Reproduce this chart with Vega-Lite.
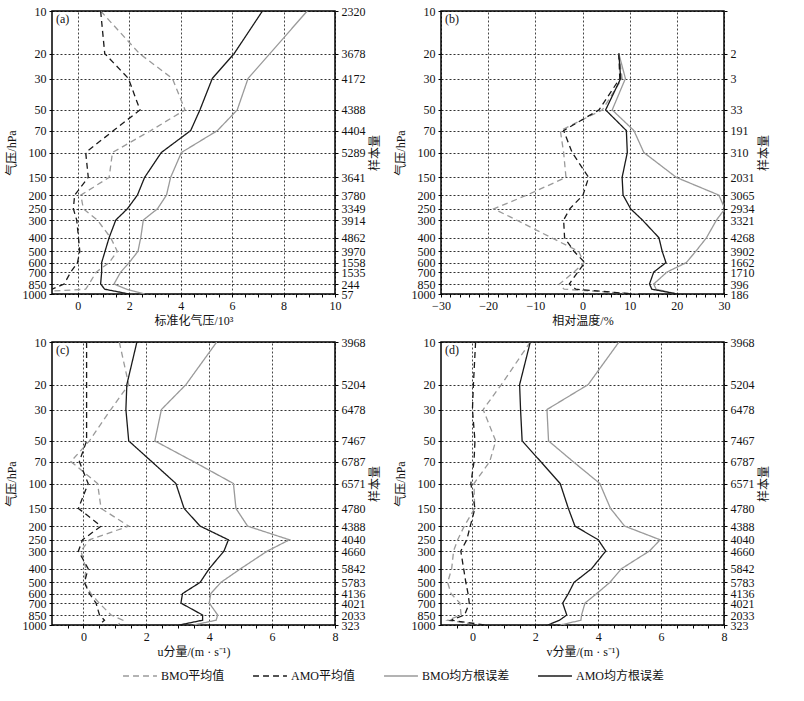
{
  "$schema": "https://vega.github.io/schema/vega-lite/v6.json",
  "padding": {"left": 4, "top": 4, "right": 5, "bottom": 5},
  "background": "white",
  "config": {
    "font": "Liberation Serif, Noto Sans CJK SC",
    "view": {"stroke": "#000", "strokeWidth": 1.5},
    "axis": {
      "labelFont": "Liberation Serif, Noto Sans CJK SC",
      "titleFont": "Liberation Serif, Noto Sans CJK SC",
      "labelFontSize": 12, "titleFontSize": 12, "titleFontWeight": "normal",
      "labelColor": "#111", "titleColor": "#111",
      "domain": false, "tickColor": "#000", "tickSize": 3,
      "gridColor": "#000", "gridDash": [2, 2], "gridOpacity": 0.9, "gridWidth": 0.9,
      "labelPadding": 3, "labelOverlap": false, "labelBound": false, "labelFlush": false
    },
    "legend": {
      "labelFont": "Liberation Serif, Noto Sans CJK SC", "labelFontSize": 12, "labelColor": "#111",
      "direction": "horizontal", "symbolType": "stroke", "labelOffset": 3,
      "symbolSize": 1150, "symbolStrokeWidth": 1.3, "columnPadding": 25
    }
  },
  "datasets": {
    "a": [
      {"p":10,"s":"BMO平均值","v":0.89},{"p":20,"s":"BMO平均值","v":2.4},{"p":30,"s":"BMO平均值","v":3.68},{"p":50,"s":"BMO平均值","v":4.17},{"p":70,"s":"BMO平均值","v":2.84},{"p":100,"s":"BMO平均值","v":1.35},{"p":150,"s":"BMO平均值","v":1.22},{"p":200,"s":"BMO平均值","v":0.12},{"p":250,"s":"BMO平均值","v":0.22},{"p":300,"s":"BMO平均值","v":0.76},{"p":400,"s":"BMO平均值","v":1.28},{"p":500,"s":"BMO平均值","v":1.54},{"p":600,"s":"BMO平均值","v":1.22},{"p":700,"s":"BMO平均值","v":0.72},{"p":850,"s":"BMO平均值","v":0.44},{"p":925,"s":"BMO平均值","v":0.31},{"p":1000,"s":"BMO平均值","v":-3.0},
      {"p":10,"s":"AMO平均值","v":0.89},{"p":20,"s":"AMO平均值","v":1.05},{"p":30,"s":"AMO平均值","v":1.97},{"p":50,"s":"AMO平均值","v":2.42},{"p":70,"s":"AMO平均值","v":1.39},{"p":100,"s":"AMO平均值","v":0.31},{"p":150,"s":"AMO平均值","v":0.41},{"p":200,"s":"AMO平均值","v":-0.12},{"p":250,"s":"AMO平均值","v":-0.17},{"p":300,"s":"AMO平均值","v":-0.04},{"p":400,"s":"AMO平均值","v":0.03},{"p":500,"s":"AMO平均值","v":0.08},{"p":600,"s":"AMO平均值","v":-0.01},{"p":700,"s":"AMO平均值","v":-0.27},{"p":850,"s":"AMO平均值","v":-0.53},{"p":925,"s":"AMO平均值","v":-1.0},{"p":1000,"s":"AMO平均值","v":-1.5},
      {"p":10,"s":"BMO均方根误差","v":8.92},{"p":20,"s":"BMO均方根误差","v":7.47},{"p":30,"s":"BMO均方根误差","v":6.62},{"p":50,"s":"BMO均方根误差","v":6.2},{"p":70,"s":"BMO均方根误差","v":5.43},{"p":100,"s":"BMO均方根误差","v":4.03},{"p":150,"s":"BMO均方根误差","v":3.61},{"p":200,"s":"BMO均方根误差","v":3.45},{"p":250,"s":"BMO均方根误差","v":3.1},{"p":300,"s":"BMO均方根误差","v":2.55},{"p":400,"s":"BMO均方根误差","v":2.45},{"p":500,"s":"BMO均方根误差","v":2.34},{"p":600,"s":"BMO均方根误差","v":2.0},{"p":700,"s":"BMO均方根误差","v":1.67},{"p":850,"s":"BMO均方根误差","v":1.41},{"p":925,"s":"BMO均方根误差","v":1.9},{"p":1000,"s":"BMO均方根误差","v":2.6},
      {"p":10,"s":"AMO均方根误差","v":7.18},{"p":20,"s":"AMO均方根误差","v":6.08},{"p":30,"s":"AMO均方根误差","v":5.23},{"p":50,"s":"AMO均方根误差","v":4.75},{"p":70,"s":"AMO均方根误差","v":4.39},{"p":100,"s":"AMO均方根误差","v":3.25},{"p":150,"s":"AMO均方根误差","v":2.6},{"p":200,"s":"AMO均方根误差","v":2.32},{"p":250,"s":"AMO均方根误差","v":1.93},{"p":300,"s":"AMO均方根误差","v":1.48},{"p":400,"s":"AMO均方根误差","v":1.22},{"p":500,"s":"AMO均方根误差","v":1.06},{"p":600,"s":"AMO均方根误差","v":0.93},{"p":700,"s":"AMO均方根误差","v":0.93},{"p":850,"s":"AMO均方根误差","v":0.89},{"p":925,"s":"AMO均方根误差","v":1.05},{"p":1000,"s":"AMO均方根误差","v":2.0}
    ],
    "b": [
      {"p":20,"s":"BMO平均值","v":7.7},{"p":30,"s":"BMO平均值","v":8.4},{"p":50,"s":"BMO平均值","v":4.2},{"p":70,"s":"BMO平均值","v":-4.7},{"p":100,"s":"BMO平均值","v":-4.0},{"p":150,"s":"BMO平均值","v":-3.5},{"p":200,"s":"BMO平均值","v":-11.8},{"p":250,"s":"BMO平均值","v":-18.8},{"p":300,"s":"BMO平均值","v":-14.0},{"p":400,"s":"BMO平均值","v":-6.6},{"p":500,"s":"BMO平均值","v":-0.8},{"p":600,"s":"BMO平均值","v":0.3},{"p":700,"s":"BMO平均值","v":-1.8},{"p":850,"s":"BMO平均值","v":-4.9},{"p":925,"s":"BMO平均值","v":-3.9},{"p":1000,"s":"BMO平均值","v":12},
      {"p":20,"s":"AMO平均值","v":7.7},{"p":30,"s":"AMO平均值","v":7.9},{"p":50,"s":"AMO平均值","v":3.5},{"p":70,"s":"AMO平均值","v":-4.0},{"p":100,"s":"AMO平均值","v":-2.2},{"p":150,"s":"AMO平均值","v":1.3},{"p":200,"s":"AMO平均值","v":0.1},{"p":250,"s":"AMO平均值","v":-2.7},{"p":300,"s":"AMO平均值","v":-4.0},{"p":400,"s":"AMO平均值","v":-3.8},{"p":500,"s":"AMO平均值","v":-1.8},{"p":600,"s":"AMO平均值","v":0.5},{"p":700,"s":"AMO平均值","v":-1.0},{"p":850,"s":"AMO平均值","v":-2.8},{"p":925,"s":"AMO平均值","v":-1.4},{"p":1000,"s":"AMO平均值","v":11},
      {"p":20,"s":"BMO均方根误差","v":7.7},{"p":30,"s":"BMO均方根误差","v":9.1},{"p":50,"s":"BMO均方根误差","v":6.3},{"p":70,"s":"BMO均方根误差","v":10.9},{"p":100,"s":"BMO均方根误差","v":13.0},{"p":150,"s":"BMO均方根误差","v":19.9},{"p":200,"s":"BMO均方根误差","v":28.9},{"p":250,"s":"BMO均方根误差","v":30.2},{"p":300,"s":"BMO均方根误差","v":28.4},{"p":400,"s":"BMO均方根误差","v":26.3},{"p":500,"s":"BMO均方根误差","v":24.0},{"p":600,"s":"BMO均方根误差","v":22.0},{"p":700,"s":"BMO均方根误差","v":17.9},{"p":850,"s":"BMO均方根误差","v":15.1},{"p":925,"s":"BMO均方根误差","v":15.6},{"p":1000,"s":"BMO均方根误差","v":20.0},
      {"p":20,"s":"AMO均方根误差","v":7.7},{"p":30,"s":"AMO均方根误差","v":8.1},{"p":50,"s":"AMO均方根误差","v":4.9},{"p":70,"s":"AMO均方根误差","v":9.3},{"p":100,"s":"AMO均方根误差","v":9.5},{"p":150,"s":"AMO均方根误差","v":8.4},{"p":200,"s":"AMO均方根误差","v":8.6},{"p":250,"s":"AMO均方根误差","v":10.2},{"p":300,"s":"AMO均方根误差","v":12.7},{"p":400,"s":"AMO均方根误差","v":16.2},{"p":500,"s":"AMO均方根误差","v":16.9},{"p":600,"s":"AMO均方根误差","v":17.7},{"p":700,"s":"AMO均方根误差","v":15.1},{"p":850,"s":"AMO均方根误差","v":14.2},{"p":925,"s":"AMO均方根误差","v":14.7},{"p":1000,"s":"AMO均方根误差","v":20.1}
    ],
    "c": [
      {"p":10,"s":"BMO平均值","v":1.14},{"p":20,"s":"BMO平均值","v":1.44},{"p":30,"s":"BMO平均值","v":0.87},{"p":50,"s":"BMO平均值","v":0.19},{"p":70,"s":"BMO平均值","v":-0.4},{"p":100,"s":"BMO平均值","v":0.45},{"p":150,"s":"BMO平均值","v":0.56},{"p":200,"s":"BMO平均值","v":1.44},{"p":250,"s":"BMO平均值","v":0.19},{"p":300,"s":"BMO平均值","v":-0.08},{"p":400,"s":"BMO平均值","v":0.08},{"p":500,"s":"BMO平均值","v":0.03},{"p":600,"s":"BMO平均值","v":0.24},{"p":700,"s":"BMO平均值","v":0.5},{"p":850,"s":"BMO平均值","v":0.88},{"p":925,"s":"BMO平均值","v":1.25},{"p":1000,"s":"BMO平均值","v":1.09},
      {"p":10,"s":"AMO平均值","v":0.1},{"p":20,"s":"AMO平均值","v":0.1},{"p":30,"s":"AMO平均值","v":0.1},{"p":50,"s":"AMO平均值","v":0.1},{"p":70,"s":"AMO平均值","v":-0.13},{"p":100,"s":"AMO平均值","v":0.15},{"p":150,"s":"AMO平均值","v":-0.16},{"p":200,"s":"AMO平均值","v":0.56},{"p":250,"s":"AMO平均值","v":-0.03},{"p":300,"s":"AMO平均值","v":-0.16},{"p":400,"s":"AMO平均值","v":0.15},{"p":500,"s":"AMO平均值","v":0.03},{"p":600,"s":"AMO平均值","v":0.19},{"p":700,"s":"AMO平均值","v":0.4},{"p":850,"s":"AMO平均值","v":0.51},{"p":925,"s":"AMO平均值","v":0.67},{"p":1000,"s":"AMO平均值","v":0.5},
      {"p":10,"s":"BMO均方根误差","v":4.24},{"p":20,"s":"BMO均方根误差","v":3.26},{"p":30,"s":"BMO均方根误差","v":2.48},{"p":50,"s":"BMO均方根误差","v":2.27},{"p":70,"s":"BMO均方根误差","v":3.5},{"p":100,"s":"BMO均方根误差","v":4.77},{"p":150,"s":"BMO均方根误差","v":4.85},{"p":200,"s":"BMO均方根误差","v":5.22},{"p":250,"s":"BMO均方根误差","v":6.55},{"p":300,"s":"BMO均方根误差","v":5.85},{"p":400,"s":"BMO均方根误差","v":5.0},{"p":500,"s":"BMO均方根误差","v":4.37},{"p":600,"s":"BMO均方根误差","v":4.05},{"p":700,"s":"BMO均方根误差","v":4.0},{"p":850,"s":"BMO均方根误差","v":4.27},{"p":925,"s":"BMO均方根误差","v":4.22},{"p":1000,"s":"BMO均方根误差","v":3.5},
      {"p":10,"s":"AMO均方根误差","v":1.7},{"p":20,"s":"AMO均方根误差","v":1.38},{"p":30,"s":"AMO均方根误差","v":1.35},{"p":50,"s":"AMO均方根误差","v":1.44},{"p":70,"s":"AMO均方根误差","v":2.17},{"p":100,"s":"AMO均方根误差","v":2.94},{"p":150,"s":"AMO均方根误差","v":3.2},{"p":200,"s":"AMO均方根误差","v":3.71},{"p":250,"s":"AMO均方根误差","v":4.61},{"p":300,"s":"AMO均方根误差","v":4.47},{"p":400,"s":"AMO均方根误差","v":4.0},{"p":500,"s":"AMO均方根误差","v":3.71},{"p":600,"s":"AMO均方根误差","v":3.15},{"p":700,"s":"AMO均方根误差","v":3.1},{"p":850,"s":"AMO均方根误差","v":3.79},{"p":925,"s":"AMO均方根误差","v":3.79},{"p":1000,"s":"AMO均方根误差","v":3.05}
    ],
    "d": [
      {"p":10,"s":"BMO平均值","v":1.84},{"p":20,"s":"BMO平均值","v":0.92},{"p":30,"s":"BMO平均值","v":0.34},{"p":50,"s":"BMO平均值","v":0.74},{"p":70,"s":"BMO平均值","v":0.55},{"p":100,"s":"BMO平均值","v":0.05},{"p":150,"s":"BMO平均值","v":0.07},{"p":200,"s":"BMO平均值","v":-0.26},{"p":250,"s":"BMO平均值","v":-0.47},{"p":300,"s":"BMO平均值","v":-0.6},{"p":400,"s":"BMO平均值","v":-0.66},{"p":500,"s":"BMO平均值","v":-0.79},{"p":600,"s":"BMO平均值","v":-0.68},{"p":700,"s":"BMO平均值","v":-0.4},{"p":850,"s":"BMO平均值","v":-0.36},{"p":925,"s":"BMO平均值","v":-0.79},{"p":1000,"s":"BMO平均值","v":0.2},
      {"p":10,"s":"AMO平均值","v":0.1},{"p":20,"s":"AMO平均值","v":0.03},{"p":30,"s":"AMO平均值","v":0.0},{"p":50,"s":"AMO平均值","v":0.08},{"p":70,"s":"AMO平均值","v":0.05},{"p":100,"s":"AMO平均值","v":-0.05},{"p":150,"s":"AMO平均值","v":0.08},{"p":200,"s":"AMO平均值","v":-0.07},{"p":250,"s":"AMO平均值","v":-0.18},{"p":300,"s":"AMO平均值","v":-0.37},{"p":400,"s":"AMO平均值","v":-0.28},{"p":500,"s":"AMO平均值","v":-0.21},{"p":600,"s":"AMO平均值","v":-0.14},{"p":700,"s":"AMO平均值","v":-0.1},{"p":850,"s":"AMO平均值","v":-0.25},{"p":925,"s":"AMO平均值","v":-0.68},{"p":1000,"s":"AMO平均值","v":0.4},
      {"p":10,"s":"BMO均方根误差","v":4.66},{"p":20,"s":"BMO均方根误差","v":3.68},{"p":30,"s":"BMO均方根误差","v":2.37},{"p":50,"s":"BMO均方根误差","v":2.42},{"p":70,"s":"BMO均方根误差","v":3.2},{"p":100,"s":"BMO均方根误差","v":4.05},{"p":150,"s":"BMO均方根误差","v":4.39},{"p":200,"s":"BMO均方根误差","v":4.84},{"p":250,"s":"BMO均方根误差","v":5.97},{"p":300,"s":"BMO均方根误差","v":5.63},{"p":400,"s":"BMO均方根误差","v":4.74},{"p":500,"s":"BMO均方根误差","v":4.37},{"p":600,"s":"BMO均方根误差","v":3.95},{"p":700,"s":"BMO均方根误差","v":3.58},{"p":850,"s":"BMO均方根误差","v":3.47},{"p":925,"s":"BMO均方根误差","v":3.45},{"p":1000,"s":"BMO均方根误差","v":2.8},
      {"p":10,"s":"AMO均方根误差","v":1.84},{"p":20,"s":"AMO均方根误差","v":1.5},{"p":30,"s":"AMO均方根误差","v":1.53},{"p":50,"s":"AMO均方根误差","v":1.58},{"p":70,"s":"AMO均方根误差","v":2.17},{"p":100,"s":"AMO均方根误差","v":2.79},{"p":150,"s":"AMO均方根误差","v":3.05},{"p":200,"s":"AMO均方根误差","v":3.26},{"p":250,"s":"AMO均方根误差","v":4.0},{"p":300,"s":"AMO均方根误差","v":4.24},{"p":400,"s":"AMO均方根误差","v":3.79},{"p":500,"s":"AMO均方根误差","v":3.23},{"p":600,"s":"AMO均方根误差","v":3.05},{"p":700,"s":"AMO均方根误差","v":2.87},{"p":850,"s":"AMO均方根误差","v":3.0},{"p":925,"s":"AMO均方根误差","v":2.77},{"p":1000,"s":"AMO均方根误差","v":2.4}
    ]
  },
  "vconcat": [
    {
      "hconcat": [
        {
          "width": 283, "height": 283,
          "layer": [
            {
              "data": {"name": "a"},
              "mark": {"type": "line", "clip": true, "strokeWidth": 1.3},
              "encoding": {
                "x": {"field": "v", "type": "quantitative", "scale": {"domain": [-1, 10], "nice": false, "zero": false}, "axis": {"values": [-0.5, 0, 0.5, 1, 1.5, 2, 2.5, 3, 3.5, 4, 4.5, 5, 5.5, 6, 6.5, 7, 7.5, 8, 8.5, 9, 9.5, 10], "labelExpr": "datum.value % 2 == 0 ? format(datum.value, 'd') : ''", "gridOpacity": {"condition": {"test": "datum.value % 2 == 0", "value": 0.9}, "value": 0}, "title": "标准化气压/10³"}},
                "y": {"field": "p", "type": "quantitative", "scale": {"type": "log", "domain": [10, 1000], "reverse": true, "nice": false}, "axis": {"orient": "left", "values": [10, 20, 30, 50, 70, 100, 150, 200, 250, 300, 400, 500, 600, 700, 850, 1000], "format": "d", "title": "气压/hPa"}},
                "color": {"field": "s", "type": "nominal", "scale": {"domain": ["BMO平均值", "AMO平均值", "BMO均方根误差", "AMO均方根误差"], "range": ["#9a9a9a", "#1a1a1a", "#9a9a9a", "#1a1a1a"]}, "legend": {"title": null, "orient": "none", "legendX": 70, "legendY": 647}},
                "strokeDash": {"field": "s", "type": "nominal", "scale": {"domain": ["BMO平均值", "AMO平均值", "BMO均方根误差", "AMO均方根误差"], "range": [[6, 4], [6, 4], [1, 0], [1, 0]]}, "legend": {"title": null, "orient": "none", "legendX": 70, "legendY": 647}},
                "order": {"field": "p", "type": "quantitative"}
              }
            },
            {
              "data": {"values": [{"v": -1, "p": 10, "t": "(a)"}]},
              "mark": {"type": "text", "align": "left", "baseline": "top", "dx": 4, "dy": 3, "fontSize": 12, "color": "#111"},
              "encoding": {
                "x": {"field": "v", "type": "quantitative", "axis": {"values": [-0.5, 0, 0.5, 1, 1.5, 2, 2.5, 3, 3.5, 4, 4.5, 5, 5.5, 6, 6.5, 7, 7.5, 8, 8.5, 9, 9.5, 10], "labelExpr": "datum.value % 2 == 0 ? format(datum.value, 'd') : ''", "gridOpacity": {"condition": {"test": "datum.value % 2 == 0", "value": 0.9}, "value": 0}, "title": "标准化气压/10³"}},
                "y": {"field": "p", "type": "quantitative", "axis": {"orient": "right", "grid": false, "values": [10, 20, 30, 50, 70, 100, 150, 200, 250, 300, 400, 500, 600, 700, 850, 1000], "labelExpr": "{'10':'2320','20':'3678','30':'4172','50':'4388','70':'4404','100':'5289','150':'3641','200':'3780','250':'3349','300':'3914','400':'4862','500':'3970','600':'1558','700':'1535','850':'244','1000':'57'}['' + datum.value]", "title": "样本量", "titleAngle": -90, "titleBaseline": "top"}},
                "text": {"field": "t"}
              }
            }
          ],
          "resolve": {"axis": {"y": "independent"}}
        },
        {
          "width": 283, "height": 283,
          "layer": [
            {
              "data": {"name": "b"},
              "mark": {"type": "line", "clip": true, "strokeWidth": 1.3},
              "encoding": {
                "x": {"field": "v", "type": "quantitative", "scale": {"domain": [-30, 30], "nice": false, "zero": false}, "axis": {"values": [-30, -28, -26, -24, -22, -20, -18, -16, -14, -12, -10, -8, -6, -4, -2, 0, 2, 4, 6, 8, 10, 12, 14, 16, 18, 20, 22, 24, 26, 28, 30], "labelExpr": "datum.value % 10 == 0 ? datum.label : ''", "gridOpacity": {"condition": {"test": "datum.value % 10 == 0", "value": 0.9}, "value": 0}, "title": "相对温度/%"}},
                "y": {"field": "p", "type": "quantitative", "scale": {"type": "log", "domain": [10, 1000], "reverse": true, "nice": false}, "axis": {"orient": "left", "values": [10, 20, 30, 50, 70, 100, 150, 200, 250, 300, 400, 500, 600, 700, 850, 1000], "format": "d", "title": "气压/hPa"}},
                "color": {"field": "s", "type": "nominal", "scale": {"domain": ["BMO平均值", "AMO平均值", "BMO均方根误差", "AMO均方根误差"], "range": ["#9a9a9a", "#1a1a1a", "#9a9a9a", "#1a1a1a"]}, "legend": {"title": null, "orient": "none", "legendX": 70, "legendY": 647}},
                "strokeDash": {"field": "s", "type": "nominal", "scale": {"domain": ["BMO平均值", "AMO平均值", "BMO均方根误差", "AMO均方根误差"], "range": [[6, 4], [6, 4], [1, 0], [1, 0]]}, "legend": {"title": null, "orient": "none", "legendX": 70, "legendY": 647}},
                "order": {"field": "p", "type": "quantitative"}
              }
            },
            {
              "data": {"values": [{"v": -30, "p": 10, "t": "(b)"}]},
              "mark": {"type": "text", "align": "left", "baseline": "top", "dx": 4, "dy": 3, "fontSize": 12, "color": "#111"},
              "encoding": {
                "x": {"field": "v", "type": "quantitative", "axis": {"values": [-30, -28, -26, -24, -22, -20, -18, -16, -14, -12, -10, -8, -6, -4, -2, 0, 2, 4, 6, 8, 10, 12, 14, 16, 18, 20, 22, 24, 26, 28, 30], "labelExpr": "datum.value % 10 == 0 ? datum.label : ''", "gridOpacity": {"condition": {"test": "datum.value % 10 == 0", "value": 0.9}, "value": 0}, "title": "相对温度/%"}},
                "y": {"field": "p", "type": "quantitative", "axis": {"orient": "right", "grid": false, "values": [10, 20, 30, 50, 70, 100, 150, 200, 250, 300, 400, 500, 600, 700, 850, 1000], "labelExpr": "{'10':'','20':'2','30':'3','50':'33','70':'191','100':'310','150':'2031','200':'3065','250':'2934','300':'3321','400':'4268','500':'3902','600':'1662','700':'1710','850':'396','1000':'186'}['' + datum.value]", "title": "样本量", "titleAngle": -90, "titleBaseline": "top"}},
                "text": {"field": "t"}
              }
            }
          ],
          "resolve": {"axis": {"y": "independent"}}
        }
      ],
      "spacing": 12
    },
    {
      "hconcat": [
        {
          "width": 283, "height": 283,
          "layer": [
            {
              "data": {"name": "c"},
              "mark": {"type": "line", "clip": true, "strokeWidth": 1.3},
              "encoding": {
                "x": {"field": "v", "type": "quantitative", "scale": {"domain": [-1, 8], "nice": false, "zero": false}, "axis": {"values": [-0.5, 0, 0.5, 1, 1.5, 2, 2.5, 3, 3.5, 4, 4.5, 5, 5.5, 6, 6.5, 7, 7.5, 8], "labelExpr": "datum.value % 2 == 0 ? format(datum.value, 'd') : ''", "gridOpacity": {"condition": {"test": "datum.value % 2 == 0", "value": 0.9}, "value": 0}, "title": "u分量/(m · s⁻¹)"}},
                "y": {"field": "p", "type": "quantitative", "scale": {"type": "log", "domain": [10, 1000], "reverse": true, "nice": false}, "axis": {"orient": "left", "values": [10, 20, 30, 50, 70, 100, 150, 200, 250, 300, 400, 500, 600, 700, 850, 1000], "format": "d", "title": "气压/hPa"}},
                "color": {"field": "s", "type": "nominal", "scale": {"domain": ["BMO平均值", "AMO平均值", "BMO均方根误差", "AMO均方根误差"], "range": ["#9a9a9a", "#1a1a1a", "#9a9a9a", "#1a1a1a"]}, "legend": {"title": null, "orient": "none", "legendX": 70, "legendY": 647}},
                "strokeDash": {"field": "s", "type": "nominal", "scale": {"domain": ["BMO平均值", "AMO平均值", "BMO均方根误差", "AMO均方根误差"], "range": [[6, 4], [6, 4], [1, 0], [1, 0]]}, "legend": {"title": null, "orient": "none", "legendX": 70, "legendY": 647}},
                "order": {"field": "p", "type": "quantitative"}
              }
            },
            {
              "data": {"values": [{"v": -1, "p": 10, "t": "(c)"}]},
              "mark": {"type": "text", "align": "left", "baseline": "top", "dx": 4, "dy": 3, "fontSize": 12, "color": "#111"},
              "encoding": {
                "x": {"field": "v", "type": "quantitative", "axis": {"values": [-0.5, 0, 0.5, 1, 1.5, 2, 2.5, 3, 3.5, 4, 4.5, 5, 5.5, 6, 6.5, 7, 7.5, 8], "labelExpr": "datum.value % 2 == 0 ? format(datum.value, 'd') : ''", "gridOpacity": {"condition": {"test": "datum.value % 2 == 0", "value": 0.9}, "value": 0}, "title": "u分量/(m · s⁻¹)"}},
                "y": {"field": "p", "type": "quantitative", "axis": {"orient": "right", "grid": false, "values": [10, 20, 30, 50, 70, 100, 150, 200, 250, 300, 400, 500, 600, 700, 850, 1000], "labelExpr": "{'10':'3968','20':'5204','30':'6478','50':'7467','70':'6787','100':'6571','150':'4780','200':'4388','250':'4040','300':'4660','400':'5842','500':'5783','600':'4136','700':'4021','850':'2033','1000':'323'}['' + datum.value]", "title": "样本量", "titleAngle": -90, "titleBaseline": "top"}},
                "text": {"field": "t"}
              }
            }
          ],
          "resolve": {"axis": {"y": "independent"}}
        },
        {
          "width": 283, "height": 283,
          "layer": [
            {
              "data": {"name": "d"},
              "mark": {"type": "line", "clip": true, "strokeWidth": 1.3},
              "encoding": {
                "x": {"field": "v", "type": "quantitative", "scale": {"domain": [-1, 8], "nice": false, "zero": false}, "axis": {"values": [-0.5, 0, 0.5, 1, 1.5, 2, 2.5, 3, 3.5, 4, 4.5, 5, 5.5, 6, 6.5, 7, 7.5, 8], "labelExpr": "datum.value % 2 == 0 ? format(datum.value, 'd') : ''", "gridOpacity": {"condition": {"test": "datum.value % 2 == 0", "value": 0.9}, "value": 0}, "title": "v分量/(m · s⁻¹)"}},
                "y": {"field": "p", "type": "quantitative", "scale": {"type": "log", "domain": [10, 1000], "reverse": true, "nice": false}, "axis": {"orient": "left", "values": [10, 20, 30, 50, 70, 100, 150, 200, 250, 300, 400, 500, 600, 700, 850, 1000], "format": "d", "title": "气压/hPa"}},
                "color": {"field": "s", "type": "nominal", "scale": {"domain": ["BMO平均值", "AMO平均值", "BMO均方根误差", "AMO均方根误差"], "range": ["#9a9a9a", "#1a1a1a", "#9a9a9a", "#1a1a1a"]}, "legend": {"title": null, "orient": "none", "legendX": 70, "legendY": 647}},
                "strokeDash": {"field": "s", "type": "nominal", "scale": {"domain": ["BMO平均值", "AMO平均值", "BMO均方根误差", "AMO均方根误差"], "range": [[6, 4], [6, 4], [1, 0], [1, 0]]}, "legend": {"title": null, "orient": "none", "legendX": 70, "legendY": 647}},
                "order": {"field": "p", "type": "quantitative"}
              }
            },
            {
              "data": {"values": [{"v": -1, "p": 10, "t": "(d)"}]},
              "mark": {"type": "text", "align": "left", "baseline": "top", "dx": 4, "dy": 3, "fontSize": 12, "color": "#111"},
              "encoding": {
                "x": {"field": "v", "type": "quantitative", "axis": {"values": [-0.5, 0, 0.5, 1, 1.5, 2, 2.5, 3, 3.5, 4, 4.5, 5, 5.5, 6, 6.5, 7, 7.5, 8], "labelExpr": "datum.value % 2 == 0 ? format(datum.value, 'd') : ''", "gridOpacity": {"condition": {"test": "datum.value % 2 == 0", "value": 0.9}, "value": 0}, "title": "v分量/(m · s⁻¹)"}},
                "y": {"field": "p", "type": "quantitative", "axis": {"orient": "right", "grid": false, "values": [10, 20, 30, 50, 70, 100, 150, 200, 250, 300, 400, 500, 600, 700, 850, 1000], "labelExpr": "{'10':'3968','20':'5204','30':'6478','50':'7467','70':'6787','100':'6571','150':'4780','200':'4388','250':'4040','300':'4660','400':'5842','500':'5783','600':'4136','700':'4021','850':'2033','1000':'323'}['' + datum.value]", "title": "样本量", "titleAngle": -90, "titleBaseline": "top"}},
                "text": {"field": "t"}
              }
            }
          ],
          "resolve": {"axis": {"y": "independent"}}
        }
      ],
      "spacing": 12
    }
  ],
  "spacing": 8
}
